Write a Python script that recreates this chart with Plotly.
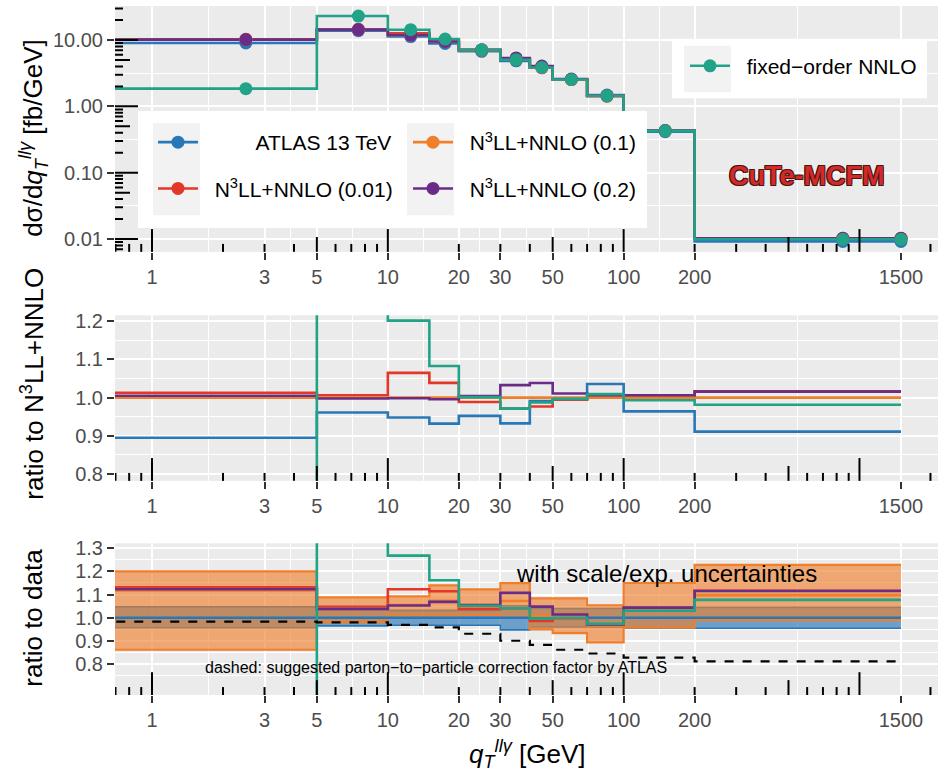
import math
import plotly.graph_objects as go

# ---------------- data ----------------
bin_edges = [0, 5, 10, 15, 20, 30, 40, 50, 70, 100, 200, 1500]
bin_centers = [2.5, 7.5, 12.5, 17.5, 25, 35, 45, 60, 85, 150, 850]

# d sigma / d qT  [fb/GeV]
atlas_13tev = [9.04, 13.84, 11.28, 8.90, 6.76, 4.85, 3.865, 2.542, 1.481, 0.4145, 0.0092]
n3ll_001 = [10.23, 14.49, 12.67, 9.92, 7.02, 5.05, 3.81, 2.537, 1.43, 0.4317, 0.01027]
n3ll_01 = [10.1, 14.4, 11.9, 9.55, 7.10, 5.20, 3.90, 2.55, 1.43, 0.430, 0.0101]
n3ll_02 = [10.15, 14.37, 11.88, 9.51, 7.13, 5.37, 4.05, 2.578, 1.439, 0.4326, 0.01026]
fixed_nnlo = [1.85, 23.0, 14.30, 10.34, 7.11, 5.05, 3.85, 2.542, 1.443, 0.427, 0.00991]

# bands in the "ratio to data" panel
exp_lo = [0.957, 0.965, 0.968, 0.968, 0.968, 0.948, 0.960, 0.960, 0.960, 0.955, 0.955]
exp_hi = [1.047, 1.035, 1.032, 1.032, 1.032, 1.052, 1.040, 1.040, 1.040, 1.045, 1.045]
scale_lo = [0.862, 0.980, 1.010, 1.010, 1.012, 1.000, 0.950, 0.934, 0.894, 0.957, 0.990]
scale_hi = [1.200, 1.088, 1.092, 1.140, 1.122, 1.149, 1.084, 1.084, 1.054, 1.150, 1.228]
p2p_factor = [0.983, 0.980, 0.969, 0.959, 0.931, 0.901, 0.883, 0.862, 0.846, 0.828, 0.812]

x_tickvals = [1, 3, 5, 10, 20, 30, 50, 100, 200, 1500]
y1_tickvals = [0.01, 0.1, 1, 10]
y1_ticktext = ["0.01", "0.10", "1.00", "10.00"]
y2_tickvals = [0.8, 0.9, 1.0, 1.1, 1.2]
y3_tickvals = [0.8, 0.9, 1.0, 1.1, 1.2, 1.3]

C_BLUE = "#2878B8"
C_RED = "#E3372A"
C_ORANGE = "#EF7F2A"
C_PURPLE = "#6A2C87"
C_TEAL = "#21A387"

# ---------------- layout geometry ----------------
W, H = 938, 776
ML, MR, MT, MB = 115, 0, 0, 81
PW, PH = W - ML - MR, H - MT - MB
XR = [-0.157, 3.333]
Y1R = [-2.194, 1.513]
Y2R = [0.782, 1.2156]
Y3R = [0.667, 1.321]
top_px, mid_px, bot_px = (0, 248), (312, 479), (542, 695)


def dom(px):
    return [1 - px[1] / PH, 1 - px[0] / PH]


def px2paper(x=None, y=None):
    out = []
    if x is not None:
        out.append((x - ML) / PW)
    if y is not None:
        out.append((PH - (y - MT)) / PH)
    return out if len(out) > 1 else out[0]


x_left = 10 ** (XR[0] - 0.3)

fig = go.Figure()


def add_step(vals, xa, ya, color, width=2.6, dash=None, fill=None, fillcolor=None):
    xs = [x_left] + bin_edges[1:]
    ys = list(vals) + [vals[-1]]
    fig.add_trace(go.Scatter(
        x=xs, y=ys, mode="lines", xaxis=xa, yaxis=ya,
        line=dict(color=color, width=width, shape="hv", dash=dash),
        fill=fill, fillcolor=fillcolor, showlegend=False, hoverinfo="skip"))


series = [
    ("ATLAS 13 TeV", atlas_13tev, C_BLUE),
    ("N<sup>3</sup>LL+NNLO (0.01)", n3ll_001, C_RED),
    ("N<sup>3</sup>LL+NNLO (0.1)", n3ll_01, C_ORANGE),
    ("N<sup>3</sup>LL+NNLO (0.2)", n3ll_02, C_PURPLE),
    ("fixed\u2212order NNLO", fixed_nnlo, C_TEAL),
]

# ---- top panel ----
for name, vals, col in series:
    add_step(vals, "x", "y", col)
for name, vals, col in series:
    fig.add_trace(go.Scatter(
        x=bin_centers + [bin_edges[-1]], y=list(vals) + [vals[-1]],
        mode="markers", marker=dict(color=col, size=13), xaxis="x", yaxis="y",
        showlegend=False, hoverinfo="skip"))

# ---- middle panel: ratio to N3LL+NNLO (0.1) ----
for name, vals, col in series:
    add_step([v / r for v, r in zip(vals, n3ll_01)], "x2", "y2", col)

# ---- bottom panel: ratio to data ----
add_step(exp_lo, "x3", "y3", C_BLUE, width=1.6)
add_step(exp_hi, "x3", "y3", C_BLUE, width=1.6, fill="tonexty", fillcolor="rgba(40,120,184,0.65)")
add_step(scale_lo, "x3", "y3", C_ORANGE, width=2.2)
add_step(scale_hi, "x3", "y3", C_ORANGE, width=2.2, fill="tonexty", fillcolor="rgba(239,127,42,0.63)")
for name, vals, col in series:
    add_step([v / d for v, d in zip(vals, atlas_13tev)], "x3", "y3", col)
add_step(p2p_factor, "x3", "y3", "black", width=2.2, dash="dash")

# ---- legend entries ----
legend_of = {
    "ATLAS 13 TeV": "legend",
    "N<sup>3</sup>LL+NNLO (0.01)": "legend",
    "N<sup>3</sup>LL+NNLO (0.1)": "legend3",
    "N<sup>3</sup>LL+NNLO (0.2)": "legend3",
    "fixed\u2212order NNLO": "legend2",
}
for i, (name, vals, col) in enumerate(series):
    pad = 9 if name == "ATLAS 13 TeV" else 2
    label = "\u00a0" * pad + name
    fig.add_trace(go.Scatter(
        x=[None], y=[None], mode="lines+markers", name=label,
        line=dict(color=col, width=2.6), marker=dict(color=col, size=13),
        legend=legend_of[name], legendgroup="g%d" % i, xaxis="x", yaxis="y"))

# ---- axes ----
def minor_mid(vals, log=True):
    if log:
        return [math.sqrt(a * b) for a, b in zip(vals[:-1], vals[1:])]
    return [(a + b) / 2 for a, b in zip(vals[:-1], vals[1:])]


x_minor = minor_mid(x_tickvals)
tickfont = dict(family="Liberation Sans, Arial, sans-serif", size=20, color="#4D4D4D")
common_ax = dict(ticks="outside", ticklen=7, tickwidth=2, tickcolor="#333333",
                 tickfont=tickfont, showgrid=True, gridcolor="white", gridwidth=2,
                 zeroline=False, showline=False)


def xax(anchor):
    return dict(type="log", range=XR, tickvals=x_tickvals,
                ticktext=[str(v) for v in x_tickvals], anchor=anchor, domain=[0, 1],
                minor=dict(tickvals=x_minor, showgrid=True, gridcolor="white", gridwidth=1, ticks=""),
                **common_ax)


y1_minor = [math.sqrt(a * b) for a, b in zip([0.001] + y1_tickvals, y1_tickvals + [100])]
fig.update_layout(
    xaxis=xax("y"), xaxis2=xax("y2"), xaxis3=xax("y3"),
    yaxis=dict(type="log", range=Y1R, tickvals=y1_tickvals, ticktext=y1_ticktext,
               domain=dom(top_px), anchor="x",
               minor=dict(tickvals=y1_minor, showgrid=True, gridcolor="white", gridwidth=1, ticks=""),
               **common_ax),
    yaxis2=dict(range=Y2R, tickvals=y2_tickvals, ticktext=["%.1f" % v for v in y2_tickvals],
                domain=dom(mid_px), anchor="x2",
                minor=dict(tickvals=minor_mid(y2_tickvals, False), showgrid=True, gridcolor="white", gridwidth=1, ticks=""),
                **common_ax),
    yaxis3=dict(range=Y3R, tickvals=y3_tickvals, ticktext=["%.1f" % v for v in y3_tickvals],
                domain=dom(bot_px), anchor="x3",
                minor=dict(tickvals=[0.75] + minor_mid(y3_tickvals, False), showgrid=True, gridcolor="white", gridwidth=1, ticks=""),
                **common_ax),
)

# ---- log ticks (annotation_logticks style) ----
shapes = []
LONG, MID, SHORT = 23, 15, 8


def tick_len(k):
    return LONG if k == 1 else (MID if k == 5 else SHORT)


xlog_ticks = [(k * 10 ** d, tick_len(k)) for d in range(-1, 4) for k in range(1, 10)
              if XR[0] <= math.log10(k * 10 ** d) <= XR[1]]
for xa, ya, px in [("x", "y", top_px), ("x2", "y2", mid_px), ("x3", "y3", bot_px)]:
    hpx = px[1] - px[0]
    for v, L in xlog_ticks:
        shapes.append(dict(type="line", xref=xa, yref=ya + " domain", x0=v, x1=v, y0=0, y1=L / hpx,
                           line=dict(color="black", width=2), layer="above"))
ylog_ticks = [(k * 10 ** d, tick_len(k)) for d in range(-3, 2) for k in range(1, 10)
              if Y1R[0] <= math.log10(k * 10 ** d) <= Y1R[1]]
for v, L in ylog_ticks:
    shapes.append(dict(type="line", xref="x domain", yref="y", x0=0, x1=L / PW, y0=v, y1=v,
                       line=dict(color="black", width=2), layer="above"))

# legend boxes (white background + grey key backgrounds)
def rect(x0, y0, x1, y1, color):
    a0, b0 = px2paper(x0, y1)
    a1, b1 = px2paper(x1, y0)
    return dict(type="rect", xref="paper", yref="paper", x0=a0, x1=a1, y0=b0, y1=b1,
                fillcolor=color, line=dict(width=0), layer="above")


shapes += [rect(138, 106, 647, 224, "white"), rect(153, 118, 200, 211, "#F2F2F2"),
           rect(407, 118, 454, 211, "#F2F2F2"),
           rect(672, 33, 927, 93, "white"), rect(684, 40, 731, 87, "#F2F2F2")]
fig.update_layout(shapes=shapes)

legfont = dict(family="Liberation Sans, Arial, sans-serif", size=21, color="black")
IW = 40
lx1, ly1 = px2paper(175 - (IW + 10) / 2 + 3, 117)
lx3, ly3 = px2paper(430 - (IW + 10) / 2 + 3, 117)
lx2, ly2 = px2paper(707 - (IW + 10) / 2 + 3, 40)
fig.update_layout(
    legend=dict(x=lx1, y=ly1, xanchor="left", yanchor="top", bgcolor="rgba(0,0,0,0)",
                font=legfont, tracegroupgap=16, itemwidth=IW),
    legend3=dict(x=lx3, y=ly3, xanchor="left", yanchor="top", bgcolor="rgba(0,0,0,0)",
                 font=legfont, tracegroupgap=16, itemwidth=IW),
    legend2=dict(x=lx2, y=ly2, xanchor="left", yanchor="top", bgcolor="rgba(0,0,0,0)",
                 font=legfont, itemwidth=IW),
)

# ---- annotations ----
title_font = dict(family="Liberation Sans, Arial, sans-serif", size=26, color="black")
ann = []
ax_, ay_ = px2paper(33, 133)
ann.append(dict(text="d\u03c3/d<i>q</i><sub><i>T</i></sub><sup><i>ll\u03b3</i></sup> [fb/GeV]",
                x=ax_, y=ay_, xref="paper", yref="paper", textangle=-90, showarrow=False,
                font=title_font, xanchor="center", yanchor="middle"))
ax_, ay_ = px2paper(33, 381)
ann.append(dict(text="ratio to N<sup>3</sup>LL+NNLO", x=ax_, y=ay_, xref="paper", yref="paper",
                textangle=-90, showarrow=False, font=title_font, xanchor="center", yanchor="middle"))
ax_, ay_ = px2paper(33, 617)
ann.append(dict(text="ratio to data", x=ax_, y=ay_, xref="paper", yref="paper",
                textangle=-90, showarrow=False, font=title_font, xanchor="center", yanchor="middle"))
ax_, ay_ = px2paper(527, 755)
ann.append(dict(text="<i>q</i><sub><i>T</i></sub><sup><i>ll\u03b3</i></sup> [GeV]", x=ax_, y=ay_,
                xref="paper", yref="paper", showarrow=False, font=title_font,
                xanchor="center", yanchor="middle"))
ax_, ay_ = px2paper(666, 572)
ann.append(dict(text="with scale/exp. uncertainties", x=ax_, y=ay_, xref="paper", yref="paper",
                showarrow=False, font=dict(family="Liberation Sans, Arial, sans-serif", size=24, color="black"),
                xanchor="center", yanchor="middle"))
ax_, ay_ = px2paper(436, 667)
ann.append(dict(text="dashed: suggested parton\u2212to\u2212particle correction factor by ATLAS",
                x=ax_, y=ay_, xref="paper", yref="paper", showarrow=False,
                font=dict(family="Liberation Sans, Arial, sans-serif", size=16, color="black"),
                xanchor="center", yanchor="middle"))
ax_, ay_ = px2paper(806, 171)
ann.append(dict(text="<b>CuTe-MCFM</b>", x=ax_, y=ay_, xref="paper", yref="paper", showarrow=False,
                font=dict(family="Liberation Sans, Arial, sans-serif", size=27,
                          color="#D42A27",
                          shadow="1px 1px 0 #4a1515, -1px -1px 0 #4a1515, 1px -1px 0 #4a1515, -1px 1px 0 #4a1515"),
                xanchor="center", yanchor="middle"))
fig.update_layout(annotations=ann)

fig.update_layout(width=W, height=H, margin=dict(l=ML, r=MR, t=MT, b=MB),
                  plot_bgcolor="#EBEBEB", paper_bgcolor="white",
                  font=dict(family="Liberation Sans, Arial, sans-serif"))
fig.write_html("out.html")
